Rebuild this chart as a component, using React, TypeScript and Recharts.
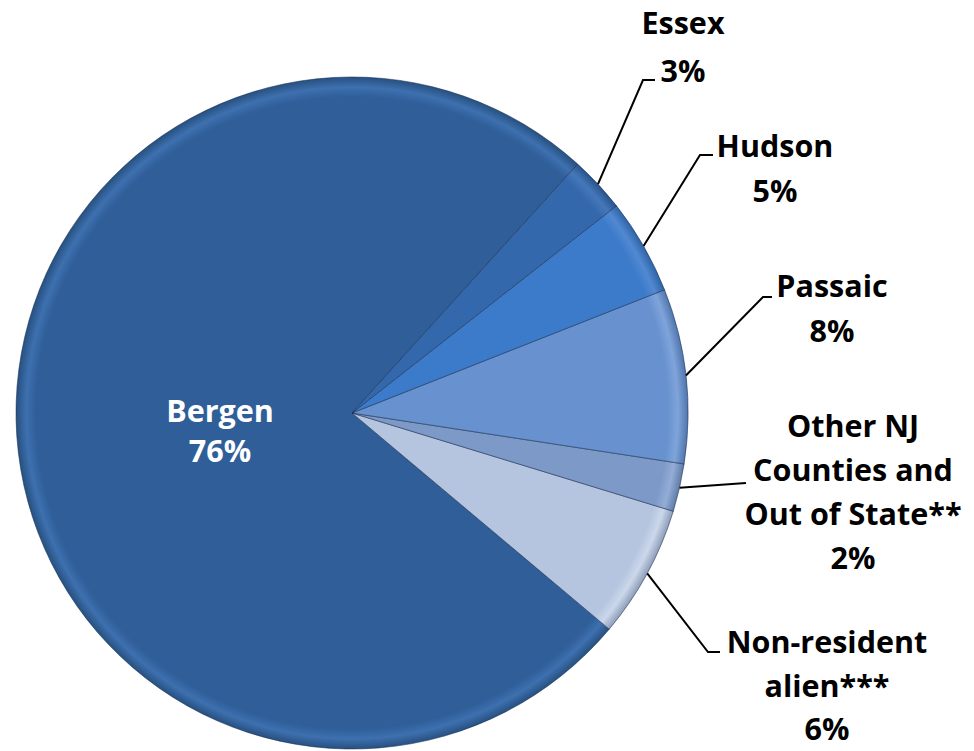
import React from 'react';
import { PieChart, Pie, Cell } from 'recharts';

// ---- data ----
const categories = ['Bergen', 'Non-resident alien***', 'Other NJ Counties and Out of State**', 'Passaic', 'Hudson', 'Essex'];
const shares = [75.6, 6.4, 2.3, 8.4, 4.6, 2.7];
const percentLabels = ['76%', '6%', '2%', '8%', '5%', '3%'];
const nameLines = [
  ['Bergen'],
  ['Non-resident', 'alien***'],
  ['Other NJ', 'Counties and', 'Out of State**'],
  ['Passaic'],
  ['Hudson'],
  ['Essex'],
];

// ---- styles / layout ----
const baseColors = ['#2F5E98', '#B5C5DF', '#7C99C8', '#6792CF', '#3C7BCA', '#3468AD'];
const rimColors = ['#3E70B0', '#CBD7EA', '#93ADD6', '#7FA4DA', '#5189D2', '#4578BA'];
const edgeColors = ['#26507F', '#8D9DB9', '#5F7BA7', '#4F76AE', '#2E63A6', '#28538C'];

type LabelLayout = {
  x: number; y0: number; lh: number; color: string;
  leader?: { elbow?: [number, number]; end: [number, number] };
};
const labelLayout: LabelLayout[] = [
  { x: 220, y0: 422, lh: 40, color: '#FFFFFF' },
  { x: 827, y0: 653, lh: 43.5, color: '#000000', leader: { elbow: [708, 652], end: [720, 652] } },
  { x: 853, y0: 437, lh: 44, color: '#000000', leader: { end: [746, 483] } },
  { x: 832, y0: 297, lh: 45, color: '#000000', leader: { elbow: [763, 297], end: [772, 297] } },
  { x: 775, y0: 157, lh: 45, color: '#000000', leader: { elbow: [700, 155], end: [713, 155] } },
  { x: 683, y0: 34, lh: 48, color: '#000000', leader: { elbow: [643, 80], end: [655, 80] } },
];

const data = categories.map((name, i) => ({ name, value: shares[i] }));

const CX = 352;
const CY = 413;
const R = 336;
const FONT = '"Open Sans", Lato, "Liberation Sans", sans-serif';

const RADIAN = Math.PI / 180;

const renderLabel = (props: any) => {
  const { cx, cy, midAngle, outerRadius, index } = props;
  const lay = labelLayout[index];
  const lines = [...nameLines[index], percentLabels[index]];
  let leader = null;
  if (lay.leader) {
    const sx = cx + outerRadius * Math.cos(-midAngle * RADIAN);
    const sy = cy + outerRadius * Math.sin(-midAngle * RADIAN);
    const pts: [number, number][] = [[sx, sy]];
    if (lay.leader.elbow) pts.push(lay.leader.elbow);
    pts.push(lay.leader.end);
    leader = (
      <polyline
        points={pts.map((p) => p.join(',')).join(' ')}
        fill="none"
        stroke="#000"
        strokeWidth={2}
      />
    );
  }
  return (
    <g key={`lbl-${index}`}>
      {leader}
      <text
        x={lay.x}
        y={lay.y0}
        textAnchor="middle"
        fill={lay.color}
        fontFamily={FONT}
        fontWeight={700}
        fontSize={30.5}
      >
        {lines.map((t, j) => (
          <tspan key={j} x={lay.x} y={lay.y0 + j * lay.lh}>
            {t}
          </tspan>
        ))}
      </text>
    </g>
  );
};

export default function App() {
  return (
    <div style={{ position: 'absolute', left: 0, top: 0, width: 974, height: 751, background: '#fff' }}>
      <PieChart width={974} height={751} margin={{ top: 0, right: 0, bottom: 0, left: 0 }}>
        <defs>
          {baseColors.map((c, i) => (
            <radialGradient
              key={i}
              id={`g${i}`}
              gradientUnits="userSpaceOnUse"
              cx={CX}
              cy={CY}
              r={R}
            >
              <stop offset="0" stopColor={c} />
              <stop offset="0.94" stopColor={c} />
              <stop offset="0.97" stopColor={rimColors[i]} />
              <stop offset="1" stopColor={edgeColors[i]} />
            </radialGradient>
          ))}
        </defs>
        <Pie
          data={data}
          dataKey="value"
          nameKey="name"
          cx={CX}
          cy={CY}
          outerRadius={R}
          innerRadius={0}
          startAngle={47.8}
          endAngle={407.8}
          isAnimationActive={false}
          label={renderLabel}
          labelLine={false}
          stroke="rgba(25,45,80,0.55)"
          strokeWidth={1}
        >
          {data.map((d, i) => (
            <Cell key={d.name} fill={`url(#g${i})`} />
          ))}
        </Pie>
      </PieChart>
    </div>
  );
}
